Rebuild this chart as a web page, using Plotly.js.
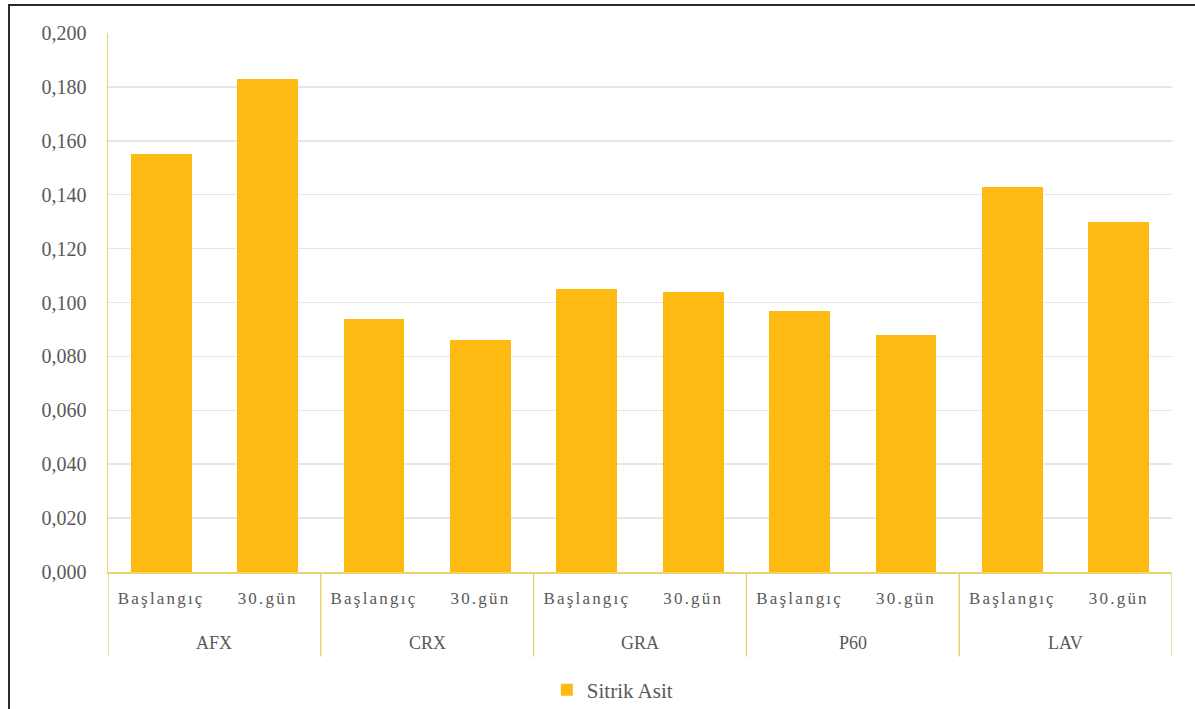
<!DOCTYPE html>
<html>
<head>
<meta charset="utf-8">
<script src="https://cdn.plot.ly/plotly-3.0.1.min.js"></script>
<style>
  html, body { margin: 0; padding: 0; background: #fff; }
  #wrap { position: relative; width: 1195px; height: 709px; }
  #frame { position: absolute; left: 8px; top: 4px; right: 0; bottom: 0;
           border-top: 2px solid #2a2a2a; border-left: 2px solid #2a2a2a; pointer-events: none; }
  #chart { position: absolute; left: 0; top: 0; width: 1195px; height: 709px; }
  #chart .xtick text { letter-spacing: 2.2px; }
</style>
</head>
<body>
<div id="wrap">
  <div id="chart"></div>
  <div id="frame"></div>
</div>
<script>
// Sitrik asit değerleri: her ürün için başlangıç ve 30. gün
const groups = ['AFX', 'CRX', 'GRA', 'P60', 'LAV'];
const phases = ['Başlangıç', '30.gün'];
const afx = [0.155, 0.183];
const crx = [0.094, 0.086];
const gra = [0.105, 0.104];
const p60 = [0.097, 0.088];
const lav = [0.143, 0.130];
const seriesName = 'Sitrik Asit';
const yTicks = [0, 0.02, 0.04, 0.06, 0.08, 0.10, 0.12, 0.14, 0.16, 0.18, 0.20];

const byGroup = [afx, crx, gra, p60, lav];

// flatten into one slot per (group, phase)
const xs = [], ys = [], tickText = [];
byGroup.forEach((vals, g) => {
  vals.forEach((v, p) => {
    xs.push(g * phases.length + p);
    ys.push(v);
    tickText.push(phases[p]);
  });
});

const barColor = '#FCBA12';
const textColor = '#595959';
const lineYellow = '#E8D56E';
const serif = 'Liberation Serif';

const trace = {
  type: 'bar',
  x: xs,
  y: ys,
  name: seriesName,
  width: 0.57,
  marker: { color: barColor },
  showlegend: true,
  hoverinfo: 'y'
};

// group labels under the phase labels, and dividers between groups
const n = phases.length;
const annotations = groups.map((g, i) => ({
  x: i * n + (n - 1) / 2,
  xref: 'x',
  y: -0.132,
  yref: 'paper',
  text: g,
  showarrow: false,
  xanchor: 'center',
  yanchor: 'middle',
  font: { family: serif, size: 18, color: textColor }
}));

const shapes = [];
for (let i = 0; i <= groups.length; i++) {
  shapes.push({
    type: 'line',
    xref: 'x', yref: 'paper',
    x0: i * n - 0.5, x1: i * n - 0.5,
    y0: 0, y1: -0.157,
    line: { color: lineYellow, width: 1.5 }
  });
}

const layout = {
  width: 1195,
  height: 709,
  margin: { l: 108, r: 23, t: 33, b: 137, autoexpand: false },
  paper_bgcolor: 'rgba(0,0,0,0)',
  plot_bgcolor: 'rgba(0,0,0,0)',
  separators: ',.',
  bargap: 0,
  font: { family: serif, color: textColor },
  xaxis: {
    range: [-0.5, groups.length * n - 0.5],
    tickvals: xs,
    ticktext: tickText,
    showgrid: false,
    zeroline: false,
    showline: true,
    linecolor: lineYellow,
    linewidth: 1.5,
    ticks: 'outside',
    ticklen: 10,
    tickcolor: 'rgba(0,0,0,0)',
    tickfont: { family: serif, size: 17, color: textColor },
    fixedrange: true
  },
  yaxis: {
    range: [0, 0.2],
    tickvals: yTicks,
    tickformat: '.3f',
    showgrid: true,
    gridcolor: '#E6E6E6',
    gridwidth: 1.5,
    zeroline: false,
    showline: true,
    linecolor: lineYellow,
    linewidth: 1.5,
    ticks: 'outside',
    ticklen: 16,
    tickcolor: 'rgba(0,0,0,0)',
    tickfont: { family: serif, size: 20, color: textColor },
    fixedrange: true
  },
  legend: {
    orientation: 'h',
    x: 0.474,
    xanchor: 'center',
    y: -0.219,
    yanchor: 'middle',
    font: { family: serif, size: 21, color: textColor },
    itemwidth: 30
  },
  annotations: annotations,
  shapes: shapes
};

Plotly.newPlot('chart', [trace], layout, { displayModeBar: false, staticPlot: true });
</script>
</body>
</html>
